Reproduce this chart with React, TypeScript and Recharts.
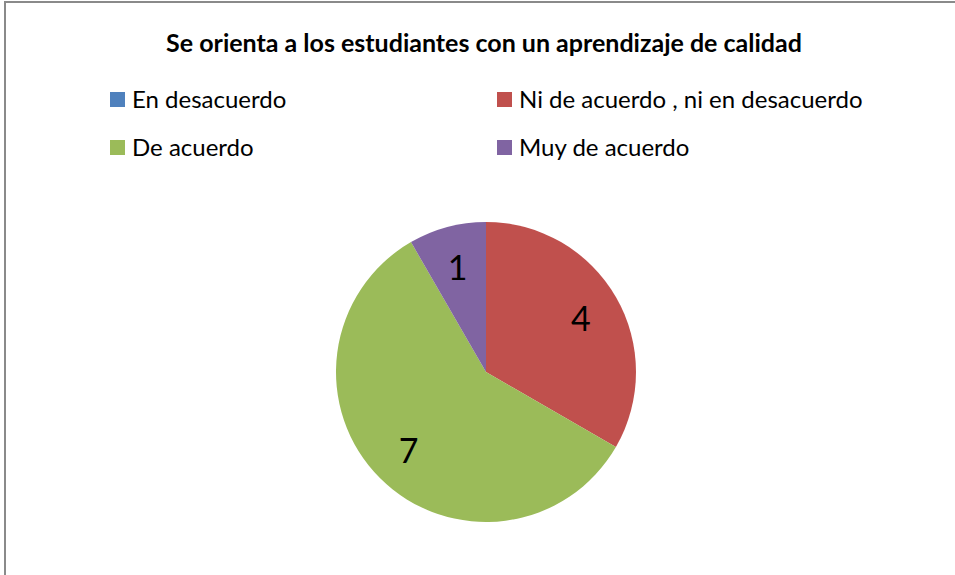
import { Cell, Legend, Pie, PieChart } from "recharts";

const CATEGORIES = ["En desacuerdo", "Ni de acuerdo , ni en desacuerdo", "De acuerdo", "Muy de acuerdo"];
const VALUES = [0, 4, 7, 1];
const COLORS = ["#4f81bd", "#c0504d", "#9bbb59", "#8064a2"];

const TITLE = "Se orienta a los estudiantes con un aprendizaje de calidad";
const FONT = "Lato, 'Liberation Sans', sans-serif";

const data = CATEGORIES.map((name, i) => ({ name, value: VALUES[i] }));

const RAD = Math.PI / 180;

function renderLabel(props: any) {
  const { cx, cy, midAngle, outerRadius, value } = props;
  if (!value) return null;
  const r = outerRadius * 0.73;
  const x = cx + r * Math.cos(-midAngle * RAD);
  const y = cy + r * Math.sin(-midAngle * RAD);
  return (
    <text
      x={x}
      y={y}
      fill="#000"
      textAnchor="middle"
      dominantBaseline="central"
      style={{ fontFamily: FONT, fontSize: 34 }}
    >
      {value}
    </text>
  );
}

function LegendBox() {
  return (
    <div style={{ position: "relative", width: 800, height: 80 }}>
      {data.map((d, i) => (
        <div
          key={d.name}
          style={{
            position: "absolute",
            left: i % 2 === 0 ? 0 : 387,
            top: Math.floor(i / 2) * 48,
            display: "flex",
            alignItems: "center",
            fontFamily: FONT,
            fontSize: 24,
            color: "#000",
            whiteSpace: "nowrap",
            lineHeight: "30px",
          }}
        >
          <span style={{ width: 15, height: 15, background: COLORS[i], marginRight: 7, display: "inline-block" }} />
          {d.name}
        </div>
      ))}
    </div>
  );
}

export default function App() {
  return (
    <div
      style={{
        position: "fixed",
        left: 4,
        top: 1,
        width: 960,
        height: 580,
        border: "2px solid #8a8a8a",
        background: "#fff",
      }}
    >
      <div
        style={{
          position: "absolute",
          left: 0,
          width: 956,
          top: 24,
          textAlign: "center",
          fontFamily: FONT,
          fontWeight: "bold",
          fontSize: 25,
          color: "#000",
        }}
      >
        {TITLE}
      </div>
      <PieChart width={956} height={576} margin={{ top: 0, right: 0, bottom: 0, left: 0 }}>
        <Pie
          data={data}
          dataKey="value"
          nameKey="name"
          cx={480}
          cy={369}
          outerRadius={150}
          startAngle={90}
          endAngle={-270}
          stroke="none"
          label={renderLabel}
          labelLine={false}
          isAnimationActive={false}
        >
          {data.map((d, i) => (
            <Cell key={d.name} fill={COLORS[i]} />
          ))}
        </Pie>
        <Legend
          content={() => <LegendBox />}
          wrapperStyle={{ position: "absolute", left: 104, top: 81, width: 800 }}
        />
      </PieChart>
    </div>
  );
}
